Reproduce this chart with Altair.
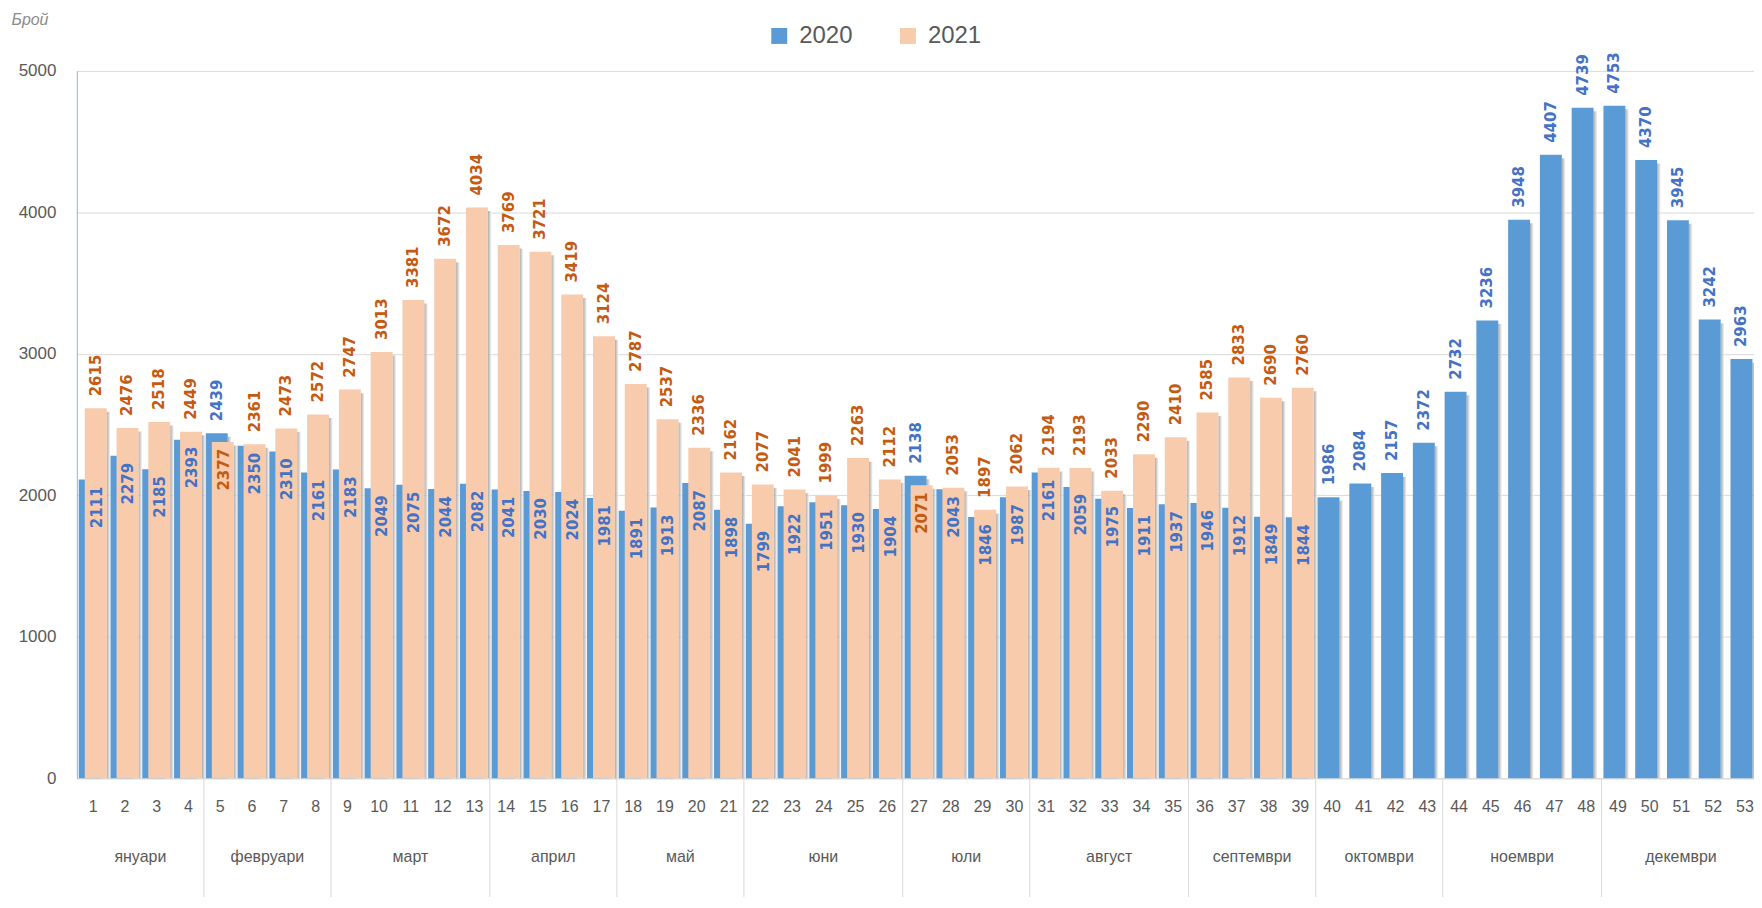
import altair as alt
import pandas as pd

weeks = list(range(1, 54))
v2020 = [2111, 2279, 2185, 2393, 2439, 2350, 2310, 2161, 2183, 2049,
         2075, 2044, 2082, 2041, 2030, 2024, 1981, 1891, 1913, 2087,
         1898, 1799, 1922, 1951, 1930, 1904, 2138, 2043, 1846, 1987,
         2161, 2059, 1975, 1911, 1937, 1946, 1912, 1849, 1844, 1986,
         2084, 2157, 2372, 2732, 3236, 3948, 4407, 4739, 4753, 4370,
         3945, 3242, 2963]
v2021 = [2615, 2476, 2518, 2449, 2377, 2361, 2473, 2572, 2747, 3013,
         3381, 3672, 4034, 3769, 3721, 3419, 3124, 2787, 2537, 2336,
         2162, 2077, 2041, 1999, 2263, 2112, 2071, 2053, 1897, 2062,
         2194, 2193, 2033, 2290, 2410, 2585, 2833, 2690, 2760]
years = ["2020", "2021"]
month_names = ["януари", "февруари", "март", "април", "май", "юни", "юли",
               "август", "септември", "октомври", "ноември", "декември"]
month_first = [1, 5, 9, 14, 18, 22, 27, 31, 36, 40, 44, 49]
month_last = [4, 8, 13, 17, 21, 26, 30, 35, 39, 43, 48, 53]
y_ticks = [0, 1000, 2000, 3000, 4000, 5000]

rows = []
for i, w in enumerate(weeks):
    a = v2020[i]
    b = v2021[i] if i < len(v2021) else None
    rows.append({"week": w, "year": "2020", "value": a,
                 "outside": b is None or a >= b})
    if b is not None:
        rows.append({"week": w, "year": "2021", "value": b, "outside": b >= a})
df = pd.DataFrame(rows)
months = pd.DataFrame({"name": month_names, "first": month_first, "last": month_last})

W, H = 1681, 709
AXFONT = "Liberation Sans Narrow, Liberation Sans, sans-serif"
xscale = alt.Scale(domain=[0.5, 53.3], nice=False, zero=False)
yscale = alt.Scale(domain=[0, 5000], nice=False)

x_axis = alt.Axis(values=weeks, format="d", title=None, ticks=False,
                  labelPadding=20, labelFontSize=16, labelFont=AXFONT,
                  labelColor="#595959", domainColor="#D9D9D9",
                  domainWidth=1, grid=False, labelFlush=False,
                  labelOverlap=False)
y_axis = alt.Axis(values=y_ticks, format="d", title="Брой", titleAngle=0,
                  titleAlign="left", titleBaseline="middle",
                  titleX=-66, titleY=-51, titleFont=AXFONT,
                  titleFontStyle="italic", titleFontWeight="normal",
                  titleFontSize=16, titleColor="#8C8C8C",
                  labelFontSize=17, labelFont=AXFONT, labelColor="#595959",
                  labelPadding=21, ticks=False, domainColor="#8DB3E2",
                  domainWidth=1, gridColor="#D9D9D9", gridWidth=1)

base = alt.Chart(df).transform_calculate(
    bx="datum.week + (datum.year == '2020' ? -0.44 : -0.25)",
).transform_calculate(
    bx2="datum.bx + 0.69",
    sx2="datum.bx + 0.81",
    sy="datum.value - 25",
    lx_out="datum.week + (datum.year == '2020' ? -0.095 : 0.095)",
    lx_in="datum.week + 0.12",
)

shadow = base.mark_bar(
    color=alt.Gradient(gradient="linear",
                       stops=[alt.GradientStop(color="#8c8c8c", offset=0),
                              alt.GradientStop(color="#ffffff", offset=1)],
                       x1=0, x2=1, y1=0, y2=0),
    opacity=0.75,
).encode(
    x=alt.X("bx2:Q", scale=xscale, axis=x_axis),
    x2="sx2:Q",
    y=alt.Y("sy:Q", scale=yscale, axis=y_axis),
    y2=alt.datum(0),
)

bars = base.mark_bar().encode(
    x=alt.X("bx:Q", scale=xscale, axis=x_axis),
    x2="bx2:Q",
    y=alt.Y("value:Q", scale=yscale, axis=y_axis),
    y2=alt.datum(0),
    color=alt.Color("year:N",
                    scale=alt.Scale(domain=years, range=["#5B9BD5", "#F8CBAD"]),
                    legend=alt.Legend(orient="none", legendX=692, legendY=-47,
                                      direction="horizontal", title=None,
                                      symbolType="square", symbolSize=256,
                                      symbolStrokeWidth=0, symbolOpacity=1,
                                      labelFontSize=24, labelColor="#595959",
                                      labelFont="Liberation Sans", labelOffset=8,
                                      columnPadding=43, padding=0)),
)

label_color = alt.condition("datum.year == '2020'", alt.value("#4472C4"),
                            alt.value("#C55A11"))
LFONT = "DejaVu Sans"

labels_out = base.transform_filter("datum.outside").mark_text(
    angle=270, align="left", baseline="middle", dx=12,
    font=LFONT, fontWeight="bold", fontSize=15,
).encode(
    x=alt.X("lx_out:Q", scale=xscale, axis=x_axis),
    y=alt.Y("value:Q", scale=yscale, axis=y_axis),
    text=alt.Text("value:Q", format="d"),
    color=label_color,
)

labels_in = base.transform_filter("!datum.outside").mark_text(
    angle=270, align="right", baseline="middle", dx=-7,
    font=LFONT, fontWeight="bold", fontSize=15,
).encode(
    x=alt.X("lx_in:Q", scale=xscale, axis=x_axis),
    y=alt.Y("value:Q", scale=yscale, axis=y_axis),
    text=alt.Text("value:Q", format="d"),
    color=label_color,
)

mbase = alt.Chart(months).transform_calculate(
    mid="(datum.first + datum.last) / 2",
    sep="datum.last + 0.5",
)
seps = mbase.transform_filter("datum.last < 53").mark_rule(
    color="#D9D9D9", strokeWidth=1
).encode(
    x=alt.X("sep:Q", scale=xscale, axis=x_axis),
    y=alt.value(H),
    y2=alt.value(H + 130),
)
mlabels = mbase.mark_text(
    font=AXFONT, fontSize=16, color="#595959", baseline="middle", align="center"
).encode(
    x=alt.X("mid:Q", scale=xscale, axis=x_axis),
    y=alt.value(H + 79),
    text="name:N",
)

chart = alt.layer(shadow, bars, labels_out, labels_in, seps, mlabels).properties(
    width=W, height=H,
    autosize=alt.AutoSizeParams(type="none"),
    padding={"left": 69, "top": 62, "right": 0, "bottom": 118},
    background="white",
).configure_view(stroke=None)

chart.save("out.html", embed_options={"renderer": "svg", "actions": False})
